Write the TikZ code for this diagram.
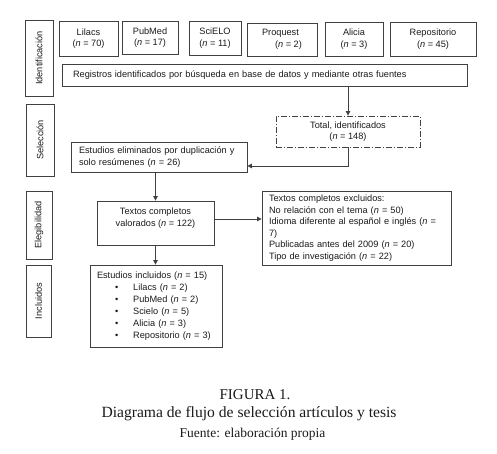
\documentclass[tikz,border=0pt]{standalone}
\usepackage{fontspec}
\newfontfamily\arialfont{Liberation Sans}
\newfontfamily\captionfont{Liberation Serif}
\usetikzlibrary{arrows.meta}
\definecolor{linegray}{HTML}{404040}
\definecolor{darktext}{HTML}{1A1A1A}

\begin{document}
\begin{tikzpicture}[
            x=1pt, y=-1pt,
            box/.style={rectangle, draw=linegray, line width=0.8pt, text=darktext,
                        font=\arialfont\fontsize{9.2}{11.5}\selectfont,
                        align=center, inner sep=2pt},
            phase/.style={box, rotate=90},
            leftbox/.style={box, align=left},
            arrow/.style={-{Triangle[length=4.5pt, width=4.5pt]}, line width=0.8pt, color=linegray},
            caption/.style={anchor=base, text=darktext}
        ]
            \useasboundingbox (0,0) rectangle (497,454);

            % phases
            \node[phase, minimum width=76pt, minimum height=28pt] (ident) at (39,58) {Identificación};
            \node[phase, minimum width=72pt, minimum height=28pt] (selec) at (40,140) {Selección};
            \node[phase, minimum width=68pt, minimum height=26pt] (elig) at (39,225) {Elegibilidad};
            \node[phase, minimum width=72pt, minimum height=25pt] (incl) at (38.5,301) {Incluidos};

            % sources
            \node[box, minimum width=59pt, minimum height=35pt] (lilacs) at (88.5,38.5) {Lilacs\\(\textit{n} = 70)};
            \node[box, minimum width=56pt, minimum height=33pt] (pubmed) at (150,37.5) {PubMed\\(\textit{n} = 17)};
            \node[box, minimum width=52pt, minimum height=34pt] (scielo) at (215,38) {SciELO\\(\textit{n} = 11)};
            \node[leftbox, minimum width=70pt, minimum height=33pt] (proquest) at (282,39.5) {Proquest\\\hspace*{13pt}(\textit{n} = 2)};
            \node[box, minimum width=58pt, minimum height=34pt] (alicia) at (354,39) {Alicia\\(\textit{n} = 3)};
            \node[box, minimum width=86pt, minimum height=34pt] (repo) at (433,39) {Repositorio\\(\textit{n} = 45)};

            \node[leftbox, text width=383pt, inner xsep=11pt, minimum height=22pt] (registros) at (264.5,75)
                {Registros identificados por búsqueda en base de datos y mediante otras fuentes};

            \node[box, dash pattern=on 6pt off 2pt on 1pt off 2pt, minimum width=144pt, minimum height=31pt] (total) at (348,131.5)
                {Total, identificados\\(\textit{n} = 148)};

            \node[leftbox, text width=160pt, inner xsep=8pt, minimum height=30pt] (elim) at (159,157)
                {Estudios eliminados por duplicación y\\solo resúmenes (\textit{n} = 26)};

            \node[box, minimum width=117pt, minimum height=44pt] (textos) at (155.5,223)
                {Textos completos\\valorados (\textit{n} = 122)\\\mbox{}};

            \node[leftbox, text width=175pt, inner xsep=7pt, minimum height=74pt] (excl) at (356.5,228)
                {Textos completos excluidos:\\
                 No relación con el tema (\textit{n} = 50)\\
                 Idioma diferente al español e inglés (\textit{n} =\\
                 7)\\
                 Publicadas antes del 2009 (\textit{n} = 20)\\
                 Tipo de investigación (\textit{n} = 22)};

            \node[leftbox, text width=118pt, inner xsep=7pt, minimum height=82pt,
                  font=\arialfont\fontsize{9.2}{12}\selectfont] (included) at (156,306)
                {Estudios incluidos (\textit{n} = 15)\\
                 \hspace*{18pt}\textbullet\hspace{15pt}Lilacs (\textit{n} = 2)\\
                 \hspace*{18pt}\textbullet\hspace{15pt}PubMed (\textit{n} = 2)\\
                 \hspace*{18pt}\textbullet\hspace{15pt}Scielo (\textit{n} = 5)\\
                 \hspace*{18pt}\textbullet\hspace{15pt}Alicia (\textit{n} = 3)\\
                 \hspace*{18pt}\textbullet\hspace{15pt}Repositorio (\textit{n} = 3)};

            \draw[arrow] (total.north |- registros.south) -- (total.north);
            \draw[arrow] (total.south) |- ([yshift=-9pt]elim.east);
            \draw[arrow] (textos.north |- elim.south) -- (textos.north);
            \draw[arrow] ([yshift=4pt]textos.east) -- ([yshift=4pt]textos.east -| excl.west);
            \draw[arrow] (textos.south) -- (textos.south |- included.north);

            % caption
            \node[caption, font=\captionfont\fontsize{15}{17}\selectfont] (figura) at (255,399) {FIGURA 1.};
            \node[caption, font=\captionfont\fontsize{15.6}{18}\selectfont] (titulo) at (249,417) {Diagrama de flujo de selección artículos y tesis};
            \node[caption, font=\captionfont\fontsize{13.5}{15}\selectfont] (fuente) at (252.5,437) {Fuente: elaboración propia};
        \end{tikzpicture}
\end{document}
